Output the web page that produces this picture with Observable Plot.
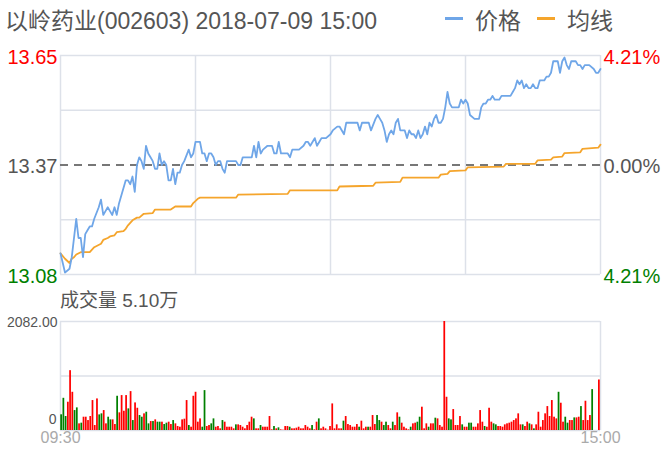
<!DOCTYPE html>
<html>
<head>
<meta charset="utf-8">
<script src="https://cdn.jsdelivr.net/npm/d3@7"></script>
<script src="https://cdn.jsdelivr.net/npm/@observablehq/plot@0.6"></script>
<style>
  html, body { margin: 0; padding: 0; background: #fff; }
  body { width: 661px; height: 455px; position: relative; overflow: hidden;
         font-family: "Liberation Sans", Arial, "Noto Sans CJK SC", sans-serif; color: #555; }
  .abs { position: absolute; white-space: nowrap; display: flex; align-items: center; }
  .sw { position: absolute; height: 3px; }
  svg { display: block; }
</style>
</head>
<body>
<div class="abs" id="title" style="left:5px; top:4px; height:29px; font-size:23px; color:#555;"></div>
<div class="sw" id="swPrice" style="left:445px; top:17px; width:18px;"></div>
<div class="abs" id="lgPrice" style="left:475px; top:4px; height:29px; font-size:23px; color:#555;"></div>
<div class="sw" id="swAvg" style="left:537px; top:17px; width:18px;"></div>
<div class="abs" id="lgAvg" style="left:567px; top:4px; height:29px; font-size:23px; color:#555;"></div>
<div id="pricePlot" style="position:absolute; left:0; top:0;"></div>
<div class="abs" id="volTitle" style="left:60px; top:286px; height:24px; font-size:19px; color:#555;"></div>
<div id="volPlot" style="position:absolute; left:0; top:310px;"></div>
<script>
// ---- text ----
const titleText = "以岭药业(002603) 2018-07-09 15:00";
const legendLabels = ["价格", "均线"];
const volumeTitle = "成交量 5.10万";

// ---- price axis ----
const priceGrid = [13.655, 13.5125, 13.37, 13.2275, 13.085];
const priceLabelValues = [13.655, 13.37, 13.085];
const priceLeftLabels = ["13.65", "13.37", "13.08"];
const priceRightLabels = ["4.21%", "0.00%", "4.21%"];
const labelColors = ["#ff0000", "#555555", "#008000"];
const prevClose = 13.37;
const timeGrid = [0, 60, 120, 180, 240];
const timeLabelPos = [0, 241];
const timeLabels = ["09:30", "15:00"];

// ---- price series (minute index from 09:30, price) ----
const priceMinute = [0,2,4,5,7,8,9,10,11,12,13,14,15,17,18,19,20,21,22,23,24,25,26,28,29,30,31,32,33,34,35,36,37,38,39,40,41,42,43,44,45,46,47,48,49,50,51,52,53,54,55,57,58,59,60,61,62,63,64,65,66,67,68,69,70,71,72,73,74,75,78,79,80,81,82,84,85,86,87,88,89,90,92,93,94,95,96,97,98,100,101,102,103,105,106,108,109,110,111,112,113,114,115,116,118,120,
121,123,124,126,127,132,133,134,137,138,140,141,142,143,144,145,146,147,148,149,150,151,152,153,154,155,156,157,158,159,160,161,162,163,164,165,166,167,168,169,170,171,172,173,174,175,176,177,178,179,180,181,182,184,185,186,187,188,189,190,191,192,193,194,195,196,200,201,202,203,204,205,206,207,208,209,210,211,212,213,215,216,217,218,219,220,221,222,223,224,225,226,227,228,229,230,231,232,233,235,237,238,239,240];
const priceValue = [13.14,13.09,13.10,13.13,13.23,13.18,13.18,13.13,13.19,13.20,13.21,13.21,13.23,13.26,13.28,13.24,13.25,13.26,13.25,13.24,13.26,13.24,13.27,13.31,13.33,13.33,13.32,13.34,13.30,13.37,13.39,13.38,13.36,13.42,13.40,13.39,13.38,13.36,13.36,13.40,13.37,13.38,13.37,13.33,13.33,13.36,13.32,13.35,13.35,13.37,13.38,13.41,13.39,13.40,13.43,13.43,13.43,13.40,13.40,13.38,13.40,13.40,13.39,13.37,13.38,13.38,13.36,13.35,13.38,13.38,13.38,13.37,13.37,13.39,13.39,13.39,13.39,13.42,13.39,13.43,13.40,13.41,13.42,13.42,13.42,13.40,13.40,13.43,13.40,13.40,13.40,13.39,13.41,13.41,13.41,13.42,13.43,13.43,13.42,13.43,13.44,13.42,13.43,13.44,13.44,13.45,
13.46,13.47,13.47,13.45,13.48,13.48,13.46,13.48,13.48,13.46,13.49,13.50,13.49,13.48,13.46,13.43,13.45,13.46,13.45,13.48,13.49,13.46,13.46,13.46,13.44,13.46,13.45,13.45,13.44,13.46,13.44,13.45,13.47,13.45,13.48,13.47,13.49,13.50,13.48,13.48,13.49,13.52,13.56,13.53,13.52,13.52,13.52,13.52,13.54,13.53,13.54,13.53,13.50,13.49,13.49,13.49,13.52,13.53,13.53,13.54,13.54,13.55,13.54,13.54,13.54,13.55,13.55,13.56,13.57,13.59,13.58,13.59,13.57,13.58,13.57,13.57,13.58,13.57,13.57,13.59,13.59,13.60,13.60,13.61,13.64,13.64,13.64,13.61,13.64,13.65,13.63,13.62,13.64,13.64,13.64,13.63,13.63,13.62,13.63,13.63,13.62,13.61,13.61,13.62];

// ---- average series (minute index, average price) ----
const avgMinute = [0,2,4,5,6,7,9,13,15,18,19,21,22,24,25,28,29,30,32,34,35,37,41,42,49,51,58,59,61,62,78,79,101,102,123,124,139,140,151,152,168,169,172,173,180,181,197,198,211,212,218,219,223,224,231,232,239,240];
const avgValue = [13.140,13.126,13.115,13.126,13.130,13.137,13.143,13.143,13.156,13.165,13.175,13.180,13.184,13.187,13.195,13.198,13.204,13.213,13.226,13.233,13.233,13.243,13.245,13.254,13.254,13.262,13.262,13.271,13.282,13.285,13.285,13.293,13.295,13.304,13.304,13.314,13.316,13.324,13.326,13.337,13.337,13.345,13.347,13.354,13.356,13.364,13.366,13.373,13.373,13.382,13.384,13.390,13.392,13.401,13.403,13.412,13.415,13.423];

// ---- volume (one bar per minute, 241 bars; up = 1 red, 0 green) ----
const volumeMax = 2082;
const volumeGrid = [0, 1041, 2082];
const volumeLabelValues = [2082, 0];
const volumeLabels = ["2082.00", "0"];
const volume = [300,615,267,540,1143,730,381,432,127,140,254,254,190,267,572,95,603,298,318,381,127,254,203,203,114,654,337,667,368,667,413,743,190,527,425,286,254,318,349,127,171,171,203,159,159,159,114,140,159,114,190,127,76,63,203,216,572,95,63,654,730,159,222,63,762,76,95,127,222,63,76,32,190,159,63,63,63,32,108,108,95,63,32,95,159,254,222,32,32,95,63,63,63,267,13,76,32,51,13,6,76,76,63,32,32,44,63,32,32,95,63,32,95,13,159,222,32,63,32,6,76,
508,32,108,32,32,178,267,114,95,63,63,114,63,178,32,63,63,63,286,114,286,190,159,95,159,95,32,159,95,337,254,140,63,32,13,63,127,140,159,254,445,32,127,63,127,127,235,222,95,63,2082,635,222,203,400,95,95,267,108,63,63,140,140,63,63,127,381,159,76,63,425,159,127,108,76,76,63,108,127,140,159,190,222,318,108,108,76,159,127,108,32,108,349,63,190,318,457,267,572,254,222,730,521,159,254,140,190,190,241,241,254,457,190,559,190,286,781,0,0,965];
const volumeUp = [0,0,0,1,1,1,0,0,1,0, 1,1,1,1,1,1,1,0,0,1, 1,0,0,1,1,0,1,1,1,1, 0,1,0,1,1,0,0,1,0,0, 1,0,1,0,0,1,0,0,1,1, 0,1,1,1,1,1,1,0,1,1, 1,1,1,0,0,1,1,0,0,1, 1,1,0,1,1,1,1,1,0,1, 1,1,1,1,1,1,0,1,1,0, 1,1,1,1,1,0,1,0,1,1, 1,1,0,1,1,1,1,1,1,1, 1,1,0,1,1,0,1,1,1,1, 1,
1,1,1,1,1,0,1,1,1,1, 1,1,0,1,1,1,0,1,1,1, 0,0,1,0,0,1,1,0,1,1, 0,1,1,1,1,0,1,1,0,0, 1,1,1,0,1,1,0,1,1,1, 1,1,0,0,1,1,1,1,0,1, 1,0,0,1,1,1,1,1,0,1, 1,1,0,0,1,1,1,1,1,1, 1,1,1,1,1,0,1,1,0,1, 0,1,1,1,1,1,1,1,1,1, 1,0,1,1,0,0,1,1,0,1, 1,0,1,1,1,1,0,1,1,1];

// ---- colours ----
const priceColor = "#6fa6e8";
const avgColor = "#f5a52c";
const gridColor = "#dde1e9";
const upColor = "#ff0000";
const downColor = "#008000";

document.getElementById("title").textContent = titleText;
document.getElementById("lgPrice").textContent = legendLabels[0];
document.getElementById("lgAvg").textContent = legendLabels[1];
document.getElementById("swPrice").style.background = priceColor;
document.getElementById("swAvg").style.background = avgColor;
document.getElementById("volTitle").textContent = volumeTitle;

const priceData = priceMinute.map((t, i) => ({t, p: priceValue[i]}));
const avgData = avgMinute.map((t, i) => ({t, p: avgValue[i]}));
const labelData = priceLabelValues.map((v, i) => ({v, left: priceLeftLabels[i], right: priceRightLabels[i], color: labelColors[i]}));
const volData = volume.map((v, i) => ({i, v, up: volumeUp[i] === 1}));
const volLabelData = volumeLabelValues.map((v, i) => ({v, text: volumeLabels[i]}));
const timeLabelData = timeLabelPos.map((t, i) => ({t, text: timeLabels[i]}));
const fontFamily = '"Liberation Sans", Arial, "Noto Sans CJK SC", sans-serif';

const pricePlot = Plot.plot({
  width: 661, height: 290,
  marginLeft: 60, marginRight: 61, marginTop: 55, marginBottom: 16,
  x: {domain: [0, 240], axis: null},
  y: {domain: [13.085, 13.655], axis: null},
  color: {type: "identity"},
  style: {fontFamily, background: "transparent", overflow: "visible"},
  marks: [
    Plot.ruleY(priceGrid.filter(v => v !== prevClose), {stroke: gridColor, strokeWidth: 1.5}),
    Plot.ruleX(timeGrid, {stroke: gridColor, strokeWidth: 1.5}),
    Plot.ruleY([prevClose], {stroke: "#777", strokeWidth: 2, strokeDasharray: "8,6"}),
    Plot.line(avgData, {x: "t", y: "p", stroke: avgColor, strokeWidth: 1.8}),
    Plot.line(priceData, {x: "t", y: "p", stroke: priceColor, strokeWidth: 1.8}),
    Plot.text(labelData, {y: "v", text: "left", fill: "color", frameAnchor: "left", textAnchor: "end", dx: -3, dy: 2, fontSize: 20}),
    Plot.text(labelData, {y: "v", text: "right", fill: "color", frameAnchor: "right", textAnchor: "start", dx: 3, dy: 2, fontSize: 20})
  ]
});
document.getElementById("pricePlot").append(pricePlot);

const volPlot = Plot.plot({
  width: 661, height: 145,
  marginLeft: 60, marginRight: 61, marginTop: 11, marginBottom: 25,
  x: {domain: [0, 241], axis: null},
  y: {domain: [0, volumeMax], axis: null},
  style: {fontFamily, background: "transparent", overflow: "visible"},
  marks: [
    Plot.ruleY(volumeGrid, {stroke: gridColor, strokeWidth: 1.5}),
    Plot.ruleX([0, 241], {stroke: gridColor, strokeWidth: 1.5}),
    Plot.rectY(volData.filter(d => d.up), {x1: "i", x2: d => d.i + 1, y: "v", fill: upColor, insetLeft: 0.25, insetRight: 0.25}),
    Plot.rectY(volData.filter(d => !d.up), {x1: "i", x2: d => d.i + 1, y: "v", fill: downColor, insetLeft: 0.25, insetRight: 0.25}),
    Plot.text(volLabelData.slice(0, 1), {y: "v", text: "text", frameAnchor: "left", textAnchor: "end", dx: -3, dy: 1, fill: "#555", fontSize: 14}),
    Plot.text(volLabelData.slice(1), {y: "v", text: "text", frameAnchor: "left", textAnchor: "end", dx: -4, dy: -11, fill: "#555", fontSize: 14}),
    Plot.text(timeLabelData, {x: "t", text: "text", frameAnchor: "bottom", dy: 12, fill: "#aaa", fontSize: 16})
  ]
});
document.getElementById("volPlot").append(volPlot);
</script>
</body>
</html>
